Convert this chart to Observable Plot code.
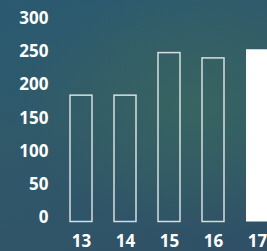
<!DOCTYPE html>
<html>
<head>
<meta charset="utf-8">
<script src="https://cdn.jsdelivr.net/npm/d3@7"></script>
<script src="https://cdn.jsdelivr.net/npm/@observablehq/plot@0.6"></script>
<style>
  html, body { margin: 0; padding: 0; width: 267px; height: 251px; overflow: hidden; }
  body {
    background:
      radial-gradient(ellipse 170px 130px at 195px 105px, rgba(56,101,96,0.95), rgba(56,101,96,0) 100%),
      linear-gradient(160deg, #2a5a71 0%, #30596a 40%, #2f5066 100%);
  }
  #chart { position: absolute; left: 0; top: 0; width: 290px; }
  #chart svg { max-width: none !important; width: 290px; height: 251px; }
</style>
</head>
<body>
<div id="chart"></div>
<script>
const years = ["13", "14", "15", "16", "17"];
const values = [190, 190, 254, 246, 259];
const highlight = ["17"];
const yTicks = [0, 50, 100, 150, 200, 250, 300];

const data = years.map((y, i) => ({year: y, value: values[i], hi: highlight.includes(y)}));

const chart = Plot.plot({
  width: 290,
  height: 251,
  marginLeft: 48,
  marginRight: 0,
  marginTop: 22,
  marginBottom: 29.5,
  style: {background: "transparent", color: "white", fontFamily: "'Open Sans', sans-serif", fontSize: "17px", fontWeight: 700, maxWidth: "none"},
  x: {domain: years, padding: 0.5, label: null},
  y: {domain: [0, 300], label: null},
  marks: [
    Plot.barY(data.filter(d => !d.hi), {x: "year", y: "value", fill: "none", stroke: "white", strokeOpacity: 0.8, strokeWidth: 1.5}),
    Plot.barY(data.filter(d => d.hi), {x: "year", y: "value", fill: "white"}),
    Plot.axisY(yTicks, {tickSize: 0, tickPadding: 0, dy: -4, fontSize: 17, fontWeight: 700, fill: "white"}),
    Plot.axisX({tickSize: 0, tickPadding: 13, fontSize: 17, fontWeight: 700, fill: "white"})
  ]
});
document.getElementById("chart").appendChild(chart);
</script>
</body>
</html>
